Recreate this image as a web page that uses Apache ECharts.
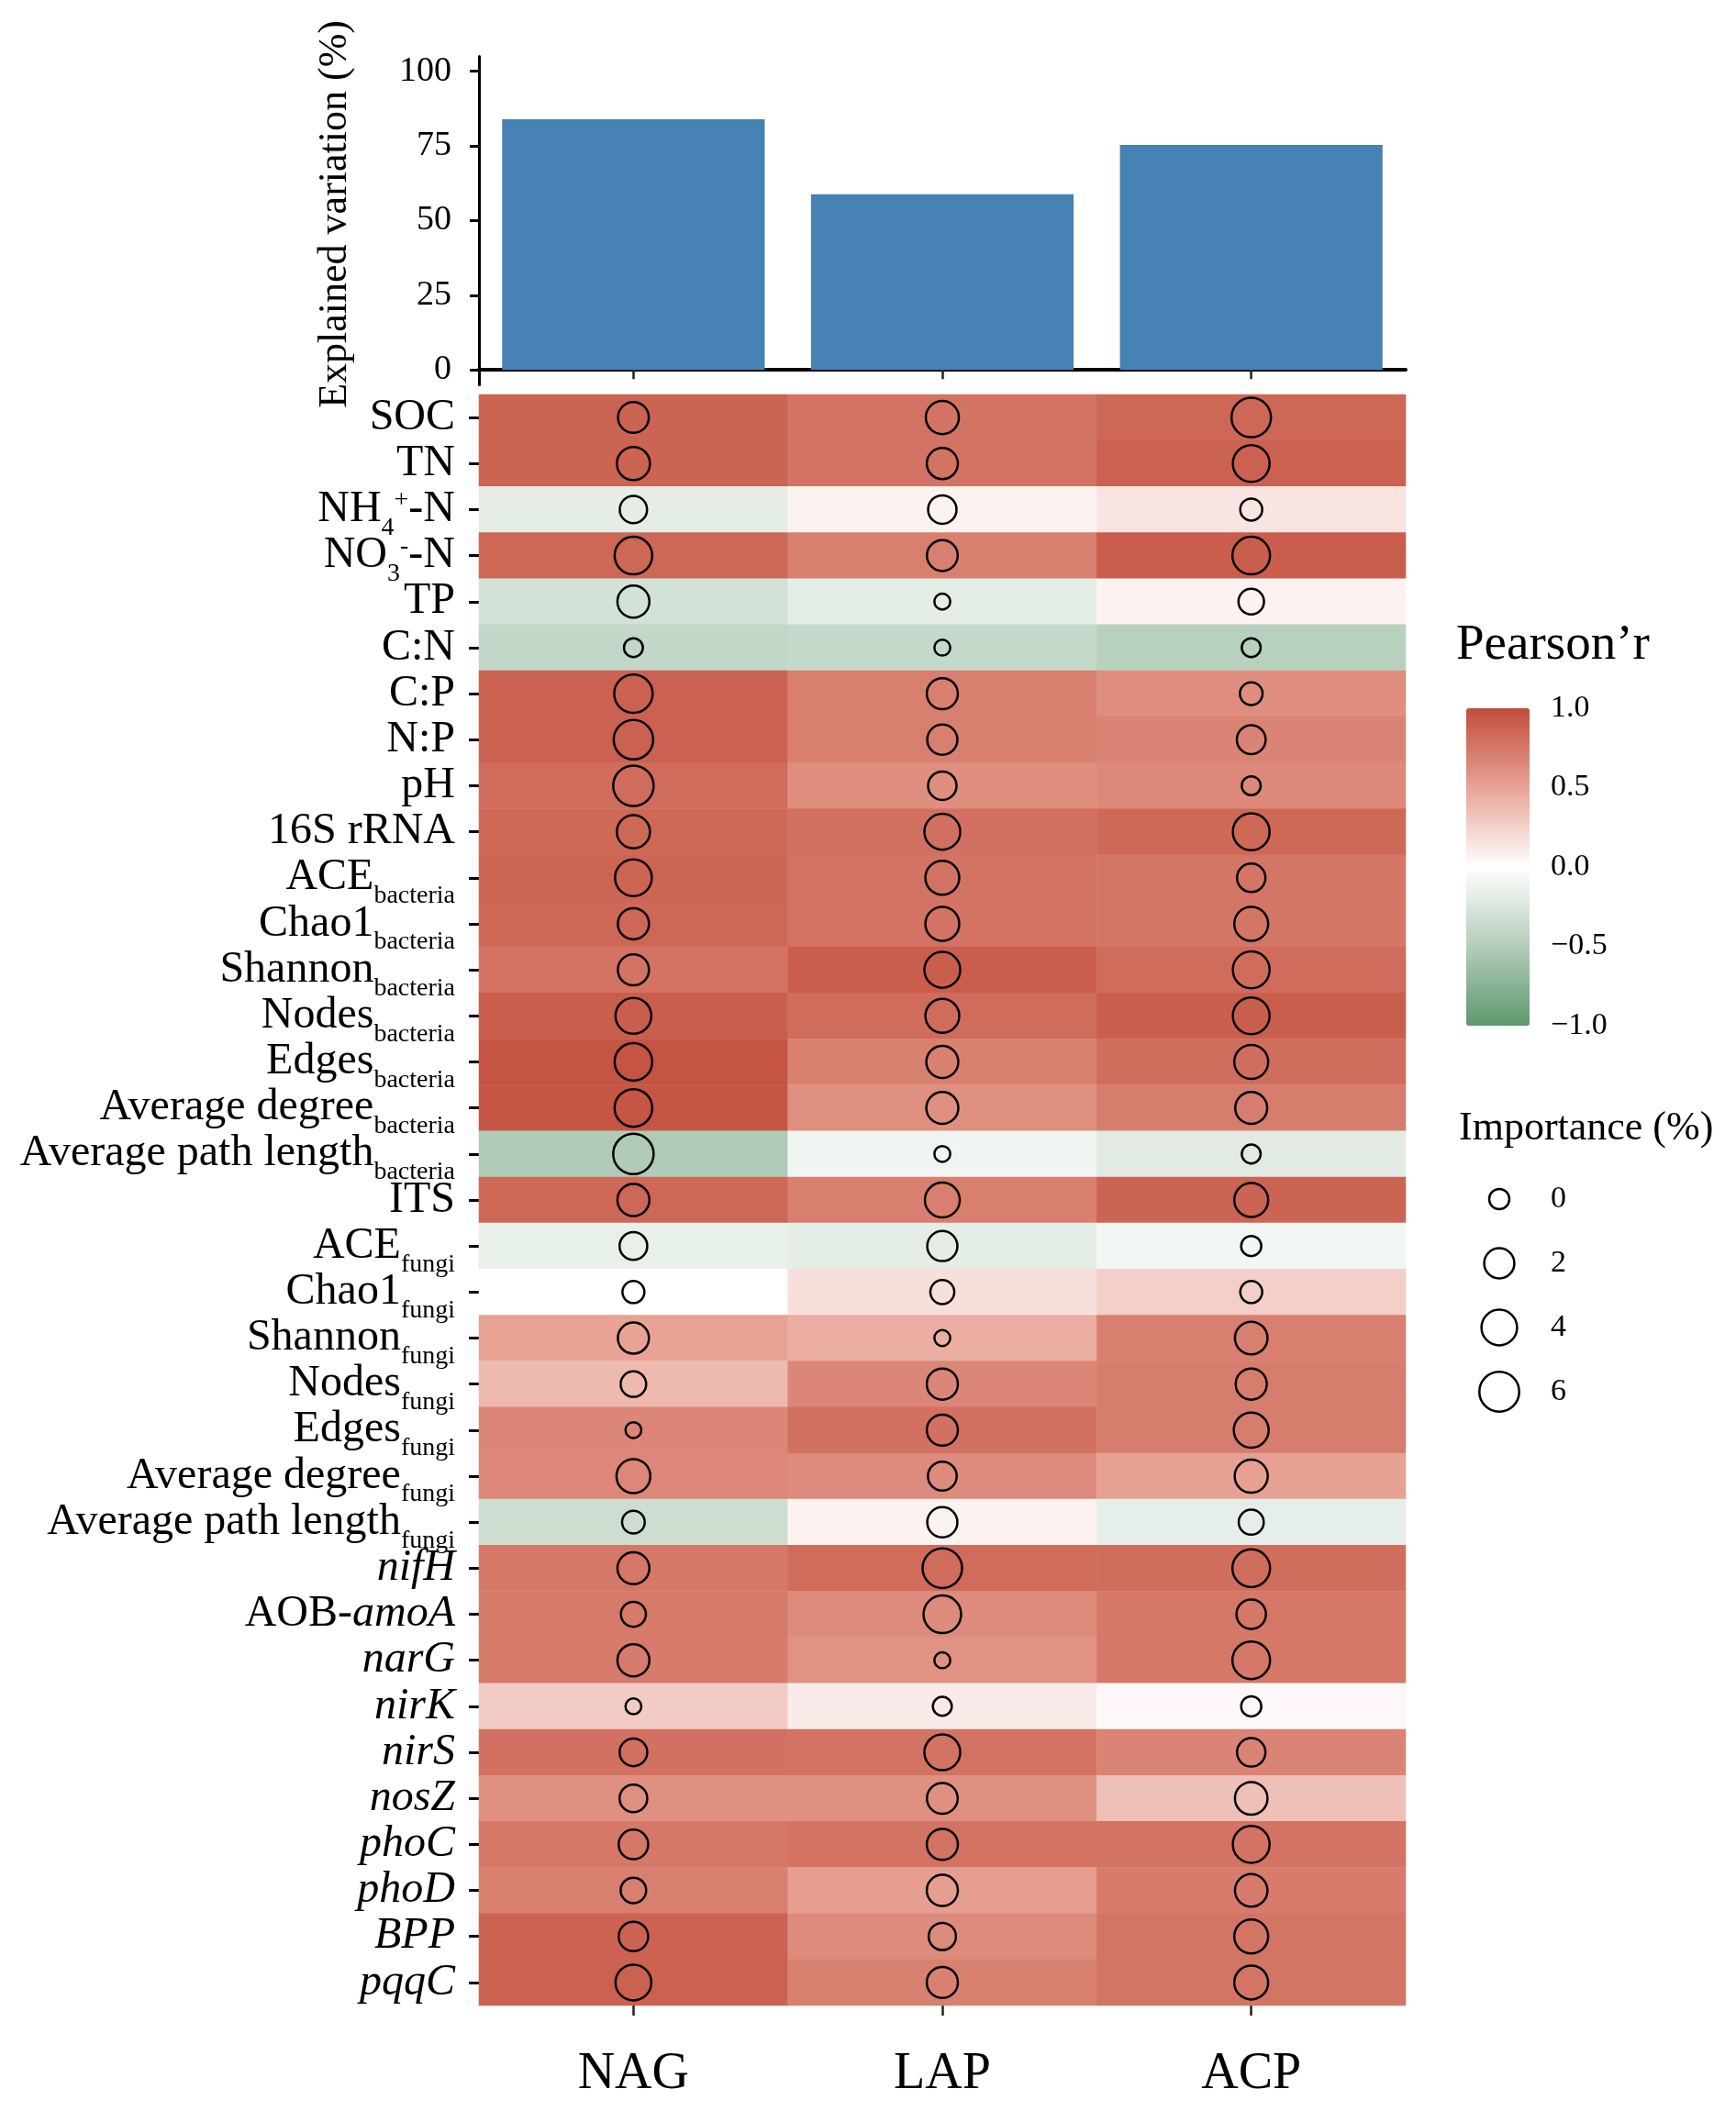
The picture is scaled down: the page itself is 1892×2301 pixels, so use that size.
<!DOCTYPE html>
<html><head><meta charset="utf-8">
<script src="https://cdn.jsdelivr.net/npm/echarts@6/dist/echarts.min.js"></script>
<style>html,body{margin:0;padding:0;background:#fff}#c{width:1892px;height:2301px}</style>
</head><body><div id="c"></div>
<script>
// ---------------- DATA ----------------
const colNames = ['NAG', 'LAP', 'ACP'];
const explained = [83.9, 58.8, 75.3];
const barTicks = [0, 25, 50, 75, 100];

const rowNames = ['SOC','TN','NH4+-N','NO3--N','TP','C:N','C:P','N:P','pH','16S rRNA',
  'ACE_bacteria','Chao1_bacteria','Shannon_bacteria','Nodes_bacteria','Edges_bacteria',
  'Average degree_bacteria','Average path length_bacteria','ITS',
  'ACE_fungi','Chao1_fungi','Shannon_fungi','Nodes_fungi','Edges_fungi',
  'Average degree_fungi','Average path length_fungi',
  'nifH','AOB-amoA','narG','nirK','nirS','nosZ','phoC','phoD','BPP','pqqC'];
const rowLabels = ['SOC','TN','NH{sub|4}{sup|+}-N','NO{sub|3}{sup|-}-N','TP','C:N','C:P','N:P','pH','16S rRNA',
  'ACE{sub|bacteria}','Chao1{sub|bacteria}','Shannon{sub|bacteria}','Nodes{sub|bacteria}','Edges{sub|bacteria}',
  'Average degree{sub|bacteria}','Average path length{sub|bacteria}','ITS',
  'ACE{sub|fungi}','Chao1{sub|fungi}','Shannon{sub|fungi}','Nodes{sub|fungi}','Edges{sub|fungi}',
  'Average degree{sub|fungi}','Average path length{sub|fungi}',
  '{it|nifH}','AOB-{it|amoA}','{it|narG}','{it|nirK}','{it|nirS}','{it|nosZ}','{it|phoC}','{it|phoD}','{it|BPP}','{it|pqqC}'];

const pearsonNAG = [0.865,0.865,-0.18,0.85,-0.29,-0.40,0.88,0.88,0.82,0.84,0.86,0.85,0.78,0.90,0.96,0.95,-0.52,0.85,
  -0.15,0.00,0.50,0.38,0.67,0.66,-0.33,0.75,0.74,0.73,0.28,0.79,0.61,0.75,0.71,0.87,0.88];
const pearsonLAP = [0.78,0.78,0.065,0.71,-0.18,-0.38,0.71,0.71,0.62,0.79,0.78,0.78,0.90,0.82,0.70,0.61,-0.10,0.71,
  -0.18,0.17,0.44,0.67,0.79,0.64,0.065,0.82,0.64,0.60,0.11,0.78,0.61,0.78,0.53,0.64,0.70];
const pearsonACP = [0.85,0.88,0.145,0.90,0.065,-0.47,0.62,0.68,0.65,0.84,0.76,0.76,0.82,0.90,0.81,0.72,-0.20,0.865,
  -0.085,0.26,0.71,0.72,0.72,0.51,-0.17,0.81,0.75,0.75,0.04,0.68,0.34,0.78,0.73,0.77,0.77];

const importanceNAG = [2.2,3.0,1.2,4.9,2.6,-0.1,5.3,5.8,6.3,3.0,4.5,2.3,2.3,4.1,4.9,4.9,6.3,2.6,
  1.3,0.2,2.3,0.8,-0.2,3.3,0.3,2.6,0.7,2.6,-0.2,1.3,1.3,1.8,0.8,1.8,4.1];
const importanceLAP = [3.0,2.3,1.5,2.2,-0.2,-0.2,2.3,2.0,1.5,4.1,3.3,3.3,4.1,3.3,2.6,2.6,-0.2,3.7,
  2.0,0.5,-0.2,2.3,2.3,1.6,2.0,5.8,4.9,-0.2,-0.1,4.1,2.2,2.3,2.3,1.2,2.3];
const importanceACP = [5.8,4.5,0.2,4.9,0.8,-0.1,0.3,1.6,-0.1,4.5,1.5,3.3,4.5,4.5,3.3,2.6,-0.1,3.3,
  0.0,0.2,2.8,2.3,3.7,3.0,0.7,4.9,1.8,4.9,0.0,1.5,2.8,4.5,2.8,3.3,3.3];

const colorTicks = [-1, -0.5, 0, 0.5, 1];
const sizeLegend = [0, 2, 4, 6];

// ---------------- STYLE ----------------
const FONT = 'Liberation Serif';
const INK = '#000';
const pearsonCols = [pearsonNAG, pearsonLAP, pearsonACP];
const importanceCols = [importanceNAG, importanceLAP, importanceACP];
const BORDER = 2.5;
function circleSize(v) { return 19.8 + 10.5 * Math.sqrt(Math.max(v + 0.2, 0)) - BORDER; }
function fmtTick(v) { return v < 0 ? '\u2212' + Math.abs(v).toFixed(1) : v.toFixed(1); }

const heatData = [], circleData = [];
colNames.forEach((c, j) => {
  rowNames.forEach((r, i) => {
    heatData.push([j, i, pearsonCols[j][i]]);
    circleData.push([j, i, importanceCols[j][i]]);
  });
});
const sizeLegendData = sizeLegend.map((v, i) => [0, i, v]);

const chart = echarts.init(document.getElementById('c'));
chart.setOption({
  backgroundColor: '#fff',
  animation: false,
  textStyle: { fontFamily: FONT, color: INK },
  title: [
    { text: 'Pearson\u2019r', left: 1587, top: 676, padding: 0,
      textStyle: { fontFamily: FONT, fontSize: 55, fontWeight: 'normal', color: INK } },
    { text: 'Importance (%)', left: 1590, top: 1208, padding: 0,
      textStyle: { fontFamily: FONT, fontSize: 44, fontWeight: 'normal', color: INK } }
  ],
  grid: [
    { left: 522, top: 61.4, width: 1010, height: 358, outerBoundsMode: 'none' },
    { left: 522, top: 430, width: 1010, height: 1756, outerBoundsMode: 'none' },
    { left: 1598, top: 772, width: 69, height: 346, outerBoundsMode: 'none' },
    { left: 1600, top: 1272, width: 68, height: 280, outerBoundsMode: 'none' }
  ],
  xAxis: [
    { gridIndex: 0, type: 'category', data: colNames,
      axisLine: { show: true, lineStyle: { color: INK, width: 4 } },
      axisTick: { show: true, alignWithLabel: true, length: 10, lineStyle: { color: '#222', width: 2.5 } },
      axisLabel: { show: false }, splitLine: { show: false } },
    { gridIndex: 1, type: 'category', data: colNames, position: 'bottom',
      axisLine: { show: false },
      axisTick: { show: true, alignWithLabel: true, length: 11, lineStyle: { color: '#222', width: 2.5 } },
      axisLabel: { show: true, fontFamily: FONT, fontSize: 56, color: INK, margin: 47 },
      splitLine: { show: false } },
    { gridIndex: 2, type: 'value', show: false, min: -1, max: 1 },
    { gridIndex: 3, type: 'value', show: false, min: -1, max: 1 }
  ],
  yAxis: [
    { gridIndex: 0, type: 'value', min: -5, max: 105,
      name: 'Explained variation (%)', nameLocation: 'middle', nameGap: 135, nameRotate: 90,
      nameTextStyle: { fontFamily: FONT, fontSize: 44, color: INK, padding: [0, 0, 0, 14] },
      axisLine: { show: true, lineStyle: { color: INK, width: 3 } },
      axisTick: { show: true, length: 10, customValues: barTicks, lineStyle: { color: INK, width: 3 } },
      axisLabel: { show: true, customValues: barTicks, fontFamily: FONT, fontSize: 38, color: INK, margin: 30 },
      splitLine: { show: false } },
    { gridIndex: 1, type: 'category', data: rowNames, inverse: true,
      axisLine: { show: false },
      axisTick: { show: true, alignWithLabel: true, length: 11, lineStyle: { color: INK, width: 3 } },
      axisLabel: {
        show: true, interval: 0, margin: 26, fontFamily: FONT, fontSize: 48, color: INK,
        formatter: (v, idx) => rowLabels[idx],
        rich: {
          sub: { fontFamily: FONT, fontSize: 28, color: INK, padding: [40, 0, 0, 0] },
          sup: { fontFamily: FONT, fontSize: 28, color: INK, padding: [0, 0, 20, 0] },
          it: { fontFamily: FONT, fontSize: 48, color: INK, fontStyle: 'italic' }
        }
      },
      splitLine: { show: false } },
    { gridIndex: 2, type: 'value', min: -1, max: 1, interval: 0.5, position: 'left',
      axisLine: { show: false },
      axisTick: { show: true, inside: true, length: 13, lineStyle: { color: '#fff', width: 2 } },
      axisLabel: { show: false }, splitLine: { show: false } },
    { gridIndex: 2, type: 'value', min: -1, max: 1, interval: 0.5, position: 'right',
      axisLine: { show: false },
      axisTick: { show: true, inside: true, length: 13, lineStyle: { color: '#fff', width: 2 } },
      axisLabel: { show: true, margin: 23, fontFamily: FONT, fontSize: 34, color: INK, formatter: fmtTick },
      splitLine: { show: false } },
    { gridIndex: 3, type: 'category', data: sizeLegend.map(String), inverse: true, position: 'right',
      axisLine: { show: false }, axisTick: { show: false },
      axisLabel: { show: true, margin: 22, fontFamily: FONT, fontSize: 34, color: INK },
      splitLine: { show: false } }
  ],
  visualMap: [{
    type: 'continuous', seriesIndex: 1, dimension: 2, min: -1, max: 1,
    left: 1598, top: 772, itemWidth: 69, itemHeight: 346, padding: 0,
    calculable: false, hoverLink: false, showLabel: false,
    inRange: { color: ['#5E986D', '#B3CDBA', '#FFFFFF', '#E8A395', '#C24D3B'] }
  }],
  series: [
    { type: 'bar', xAxisIndex: 0, yAxisIndex: 0, data: explained, barWidth: '85%',
      itemStyle: { color: '#4682B4' }, silent: true },
    { type: 'heatmap', xAxisIndex: 1, yAxisIndex: 1, data: heatData, silent: true,
      itemStyle: { borderWidth: 0 } },
    { type: 'scatter', xAxisIndex: 1, yAxisIndex: 1, data: circleData, silent: true,
      symbol: 'circle', symbolSize: (val) => circleSize(val[2]),
      itemStyle: { color: 'rgba(0,0,0,0)', borderColor: '#000', borderWidth: BORDER, opacity: 1 } },
    { type: 'scatter', xAxisIndex: 2, yAxisIndex: 3, data: [], silent: true },
    { type: 'scatter', xAxisIndex: 3, yAxisIndex: 4, data: sizeLegendData, silent: true,
      symbol: 'circle', symbolSize: (val) => circleSize(val[2]),
      itemStyle: { color: 'rgba(0,0,0,0)', borderColor: '#000', borderWidth: BORDER, opacity: 1 } }
  ]
});
</script></body></html>
